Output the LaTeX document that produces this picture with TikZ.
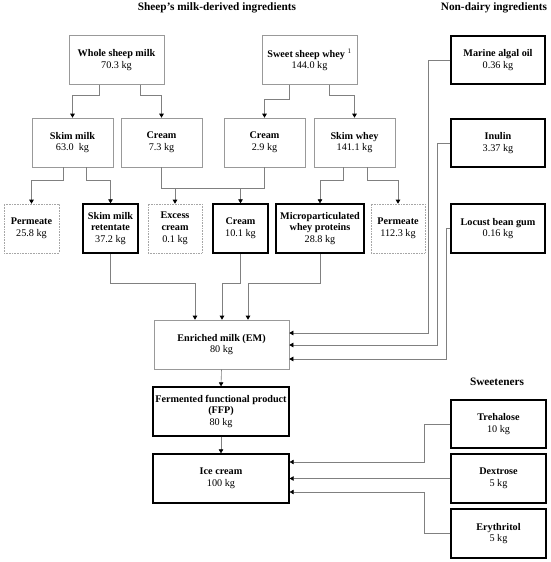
\documentclass[tikz,border=0pt]{standalone}
\usepackage{fontspec}
\setmainfont{Liberation Serif}
\usetikzlibrary{arrows.meta}
\tikzset{box/.style={draw=gray!80, line width=0.6pt, align=center,
  inner sep=1pt, minimum height=49pt, font=\fontsize{10.2}{11.8}\selectfont},
  keybox/.style={box, draw=black, line width=1.3pt},
  lossbox/.style={box, draw=gray!70, densely dotted},
  ttl/.style={font=\fontsize{11.3}{13}\selectfont\bfseries, inner sep=0pt},
  line/.style={draw=gray, line width=0.6pt},
  link/.style={line, -{Triangle[width=4.5pt, length=4pt, black]}}}

\begin{document}
\begin{tikzpicture}[x=1pt, y=-1pt]
  \useasboundingbox (0,0) rectangle (550,562);
  % group titles
  \node[ttl] (t1) at (217, 8)   {Sheep's milk-derived ingredients};
  \node[ttl] (t2) at (494, 8)   {Non-dairy ingredients};
  \node[ttl] (t3) at (497, 382) {Sweeteners};
  % dairy streams
  \node[box, minimum width=95pt] (wsm) at (116.5, 60) {\textbf{Whole sheep milk}\\70.3 kg};
  \node[box, minimum width=95pt] (ssw) at (309.5, 60)
    {\textbf{Sweet sheep whey} \textsuperscript{\scriptsize 1}\\144.0 kg};
  \node[box, minimum width=81pt] (skm) at (72.5, 142.5)  {\textbf{Skim milk}\\63.0\ \ kg};
  \node[box, minimum width=81pt] (cr1) at (161.5, 142.5) {\textbf{Cream}\\7.3 kg};
  \node[box, minimum width=81pt] (cr2) at (264.5, 142.5) {\textbf{Cream}\\2.9 kg};
  \node[box, minimum width=81pt] (skw) at (354.5, 142.5) {\textbf{Skim whey}\\141.1 kg};
  \node[lossbox, minimum width=55pt] (pm1) at (31.5, 228.5)  {\textbf{Permeate}\\25.8 kg};
  \node[keybox, minimum width=55pt]  (smr) at (110.5, 228.5) {\textbf{Skim milk}\\\textbf{retentate}\\37.2 kg};
  \node[lossbox, minimum width=54pt] (exc) at (175, 228.5)   {\textbf{Excess}\\\textbf{cream}\\0.1 kg};
  \node[keybox, minimum width=55pt]  (cr3) at (240.5, 228.5) {\textbf{Cream}\\10.1 kg};
  \node[keybox, minimum width=88pt]  (mwp) at (320, 228.5)
    {\textbf{Microparticulated}\\\textbf{whey proteins}\\28.8 kg};
  \node[lossbox, minimum width=54pt] (pm2) at (398, 228.5)   {\textbf{Permeate}\\112.3 kg};
  % non-dairy
  \node[keybox, minimum width=94pt, minimum height=48pt] (mao) at (498, 60)  {\textbf{Marine algal oil}\\0.36 kg};
  \node[keybox, minimum width=94pt, minimum height=48pt] (inu) at (498, 143) {\textbf{Inulin}\\3.37 kg};
  \node[keybox, minimum width=94pt] (lbg) at (498, 228.5) {\textbf{Locust bean gum}\\0.16 kg};
  % products
  \node[box, minimum width=135pt]    (em)  at (221.5, 344.5) {\textbf{Enriched milk (EM)}\\80 kg};
  \node[keybox, minimum width=136pt] (ffp) at (221, 411.5)
    {\textbf{Fermented functional product}\\\textbf{(FFP)}\\80 kg};
  \node[keybox, minimum width=136pt] (ice) at (221, 478.5)   {\textbf{Ice cream}\\100 kg};
  % sweeteners
  \node[keybox, minimum width=95pt, minimum height=48pt] (tre) at (498.5, 424) {\textbf{Trehalose}\\10 kg};
  \node[keybox, minimum width=95pt] (dex) at (498.5, 478.5) {\textbf{Dextrose}\\5 kg};
  \node[keybox, minimum width=95pt] (ery) at (498.5, 533.5) {\textbf{Erythritol}\\5 kg};

  % separation
  \draw[link] ([xshift=-17.5]wsm.south) -- ++(0,10) -| (skm.north);
  \draw[link] ([xshift=23.5]wsm.south) -- ++(0,10) -| (cr1.north);
  \draw[link] ([xshift=-20.5]ssw.south) -- ++(0,14) -| (cr2.north);
  \draw[link] ([xshift=19.5]ssw.south) -- ++(0,10) -| (skw.north);
  \draw[link] ([xshift=-9.5]skm.south) -- ++(0,13) -| (pm1.north);
  \draw[link] ([xshift=13.5]skm.south) -- ++(0,13) -| (smr.north);
  \draw[line] (cr1.south) -- ++(0,21) coordinate (cj) -| (cr2.south);
  \draw[link] (cj -| exc.north) -- (exc.north);
  \draw[link] (cj -| cr3.north) -- (cr3.north);
  \draw[link] ([xshift=-11.5]skw.south) -- ++(0,13) -| (mwp.north);
  \draw[link] ([xshift=12.5]skw.south) -- ++(0,13) -| (pm2.north);
  % into enriched milk
  \draw[link] (smr.south) -- ++(0,30) -| ([xshift=-26.5]em.north);
  \draw[link] (cr3.south) -- ++(0,30) -| ([xshift=0.5]em.north);
  \draw[link] (mwp.south) -- ++(0,30) -| ([xshift=26.5]em.north);
  \draw[link] (mao.west) -- ++(-22,0) |- ([yshift=11.5]em.east);
  \draw[link] (inu.west) -- ++(-13,0) |- ([yshift=-0.5]em.east);
  \draw[link] (lbg.west) -- ++(-4,0) |- ([yshift=-14.5]em.east);
  % fermentation and freezing
  \draw[link] (em.south) -- (ffp.north);
  \draw[link] (ffp.south) -- (ice.north);
  \draw[link] (tre.west) -- ++(-26,0) |- ([yshift=16.5]ice.east);
  \draw[link] (dex.west) -- (ice.east);
  \draw[link] (ery.west) -- ++(-26,0) |- ([yshift=-13.5]ice.east);
\end{tikzpicture}
\end{document}
